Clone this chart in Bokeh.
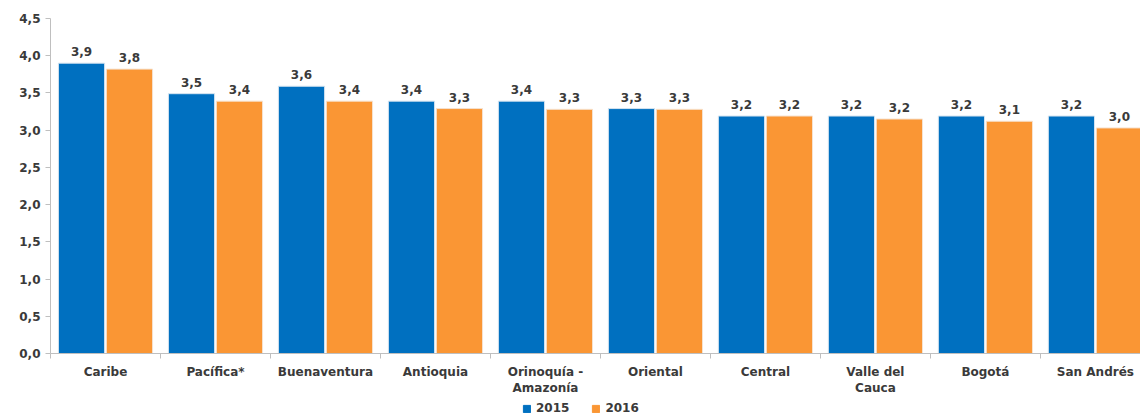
from bokeh.plotting import figure
from bokeh.layouts import column
from bokeh.models import (ColumnDataSource, Range1d, FixedTicker, CustomJSTickFormatter,
                          Legend, LegendItem)
from bokeh.core.properties import value
from bokeh.embed import file_html
from bokeh.resources import INLINE

categories = ["Caribe", "Pacífica*", "Buenaventura", "Antioquia", "Orinoquía -\nAmazonía",
              "Oriental", "Central", "Valle del\nCauca", "Bogotá", "San Andrés"]
values_2015 = [3.90, 3.49, 3.59, 3.39, 3.39, 3.29, 3.19, 3.19, 3.19, 3.19]
values_2016 = [3.82, 3.39, 3.39, 3.29, 3.28, 3.28, 3.19, 3.15, 3.12, 3.03]
labels_2015 = ["3,9", "3,5", "3,6", "3,4", "3,4", "3,3", "3,2", "3,2", "3,2", "3,2"]
labels_2016 = ["3,8", "3,4", "3,4", "3,3", "3,3", "3,3", "3,2", "3,2", "3,1", "3,0"]
series_names = ["2015", "2016"]
y_ticks = [0, 0.5, 1.0, 1.5, 2.0, 2.5, 3.0, 3.5, 4.0, 4.5]

BLUE = "#0070C0"
ORANGE = "#FA9634"
TXT = "#3A3A3A"
FONT = "DejaVu Sans"

n = len(categories)
x15 = [i + 0.282 for i in range(n)]
x16 = [i + 0.718 for i in range(n)]
src15 = ColumnDataSource(dict(x=x15, top=values_2015, lab=labels_2015))
src16 = ColumnDataSource(dict(x=x16, top=values_2016, lab=labels_2016))

p = figure(width=1140, height=398, output_backend="svg", toolbar_location=None,
           x_range=Range1d(0, 9.91), y_range=Range1d(0, 4.5),
           min_border_left=50, min_border_right=0, min_border_top=18, min_border_bottom=44)
p.outline_line_color = None
p.xgrid.visible = False
p.ygrid.visible = False
p.background_fill_color = "white"

p.vbar(x="x", top="top", width=0.42, source=src15, fill_color=BLUE,
       line_color="#D6E4F0", line_width=1)
p.vbar(x="x", top="top", width=0.42, source=src16, fill_color=ORANGE,
       line_color="#F6E2CF", line_width=1)

for src in (src15, src16):
    p.text(x="x", y="top", text="lab", source=src, text_align="center",
           text_baseline="bottom", y_offset=-7, text_font=value(FONT),
           text_font_style="bold", text_font_size="12px", text_color=TXT)

# y axis
yax = p.yaxis[0]
yax.ticker = FixedTicker(ticks=y_ticks)
yax.formatter = CustomJSTickFormatter(code="return tick.toFixed(1).replace('.', ',');")
yax.axis_line_color = "#BFBFBF"
yax.major_tick_line_color = "#BFBFBF"
yax.major_tick_out = 5
yax.major_tick_in = 0
yax.minor_tick_line_color = None
yax.major_label_text_font = FONT
yax.major_label_text_font_style = "bold"
yax.major_label_text_font_size = "12px"
yax.major_label_text_color = TXT
yax.major_label_standoff = 5

# x axis
xax = p.xaxis[0]
xax.ticker = FixedTicker(ticks=[i + 0.5 for i in range(n)], minor_ticks=list(range(n + 1)))
xax.formatter = CustomJSTickFormatter(args=dict(names=categories),
                                      code="return names[Math.floor(tick)];")
xax.axis_line_color = "#BFBFBF"
xax.major_tick_line_color = None
xax.minor_tick_line_color = "#BFBFBF"
xax.minor_tick_out = 5
xax.minor_tick_in = 0
xax.major_label_text_font = FONT
xax.major_label_text_font_style = "bold"
xax.major_label_text_font_size = "12px"
xax.major_label_text_color = TXT
xax.major_label_standoff = 5

# legend strip (a separate small figure under the chart)
lg = figure(width=1140, height=19, output_backend="svg", toolbar_location=None,
            x_range=Range1d(-100, -99), y_range=Range1d(-100, -99),
            min_border_left=0, min_border_right=0, min_border_top=0, min_border_bottom=0)
lg.outline_line_color = None
lg.axis.visible = False
lg.grid.visible = False
d15 = lg.vbar(x="x", top="top", width=0.42, source=src15, fill_color=BLUE, line_color=BLUE)
d16 = lg.vbar(x="x", top="top", width=0.42, source=src16, fill_color=ORANGE, line_color=ORANGE)
legend = Legend(items=[LegendItem(label=series_names[0], renderers=[d15]),
                       LegendItem(label=series_names[1], renderers=[d16])],
                orientation="horizontal", location=(472, 2),
                label_text_font=FONT, label_text_font_style="bold",
                label_text_font_size="12px", label_text_color=TXT,
                glyph_width=9, glyph_height=9, spacing=22, padding=0, margin=0,
                label_standoff=5, border_line_color=None, background_fill_alpha=0)
lg.add_layout(legend, "center")

layout = column(p, lg, spacing=0)
open("out.html", "w").write(file_html(layout, INLINE))
